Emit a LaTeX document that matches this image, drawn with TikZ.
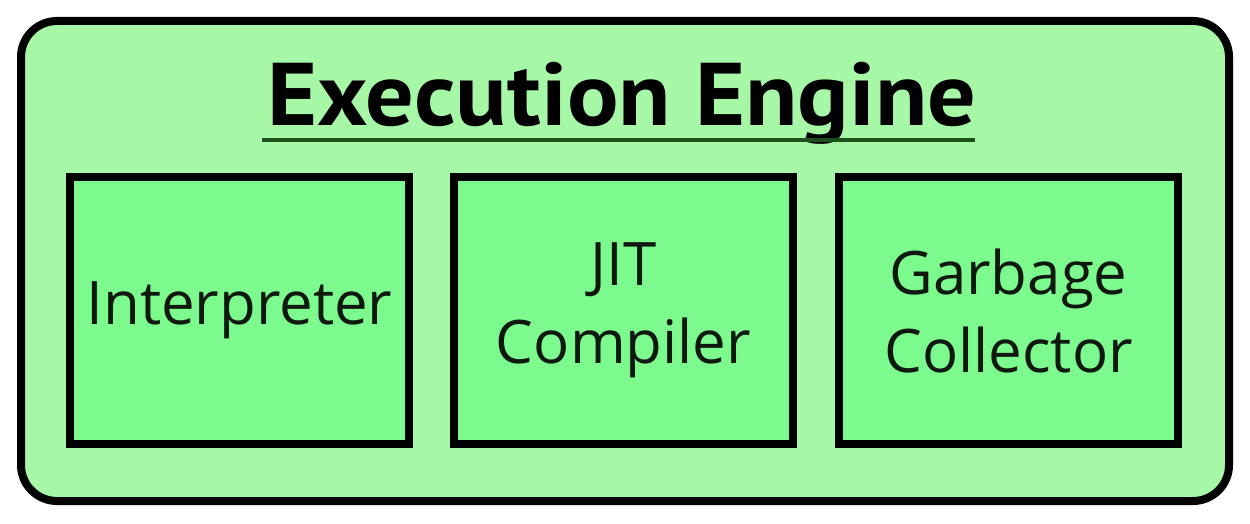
\documentclass[tikz,border=0pt]{standalone}
\usepackage{fontspec}
\setmainfont{Open Sans}
\newfontfamily\titlefont{PT Sans}
\definecolor{outerfill}{RGB}{166,248,166}
\definecolor{innerfill}{RGB}{124,250,142}
\definecolor{ulcol}{RGB}{30,80,30}
\definecolor{txt}{RGB}{15,25,15}
\begin{document}
\begin{tikzpicture}[x=1pt,y=-1pt,
  outerbox/.style={draw=black,line width=8pt,fill=outerfill,rounded corners=36pt},
  unitbox/.style={draw=black,line width=8pt,fill=innerfill,minimum width=339pt,minimum height=267pt,inner sep=0pt,
    align=center,text=txt,font=\fontsize{60}{78}\selectfont},
  titletext/.style={font=\titlefont\bfseries\fontsize{89}{89}\selectfont,text=black,inner sep=0pt,anchor=base}]
\useasboundingbox (0,0) rectangle (1250,524);
\fill[white] (0,0) rectangle (1250,524);
\draw[outerbox] (21,21) rectangle (1229,501);
\node[titletext] (title) at (622,125) {\scalebox{1.08}[1]{Execution Engine}};
\coordinate (ulL) at (262,140);
\coordinate (ulR) at (975,140);
\draw[ulcol,line width=4.5pt] (ulL) -- (ulR);
\node[unitbox] (interp) at (239.5,310.5) {Interpreter};
\node[unitbox] (jit) at (623.5,310.5) {JIT\\Compiler};
\node[unitbox] (gc) at (1008.5,310.5) {Garbage\\Collector};
\end{tikzpicture}
\end{document}
